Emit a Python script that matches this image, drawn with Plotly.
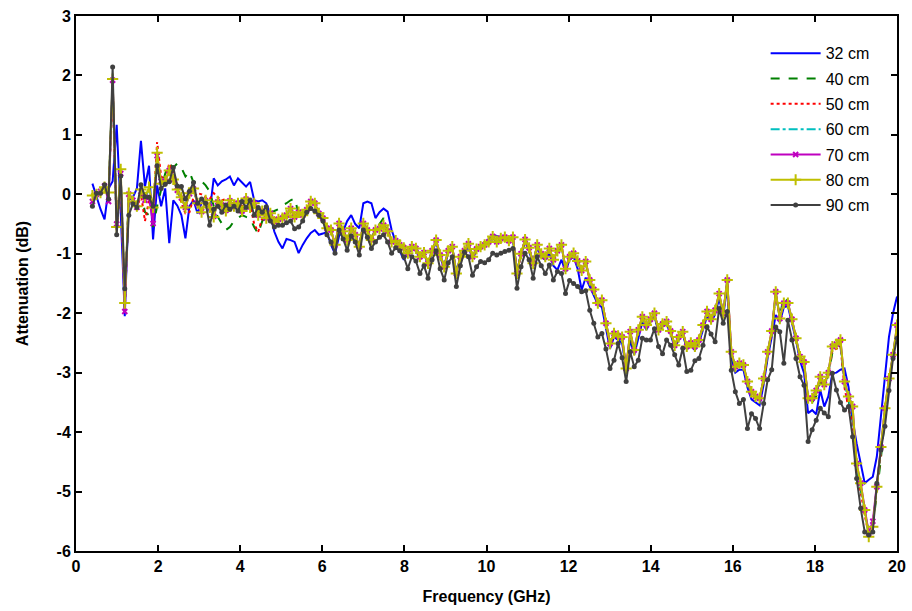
import plotly.graph_objects as go

# Frequency grid (GHz): 200 samples from 0.4 to 20 GHz
freq = [round(0.4 + 0.0985 * i, 4) for i in range(200)]

series_names = ["32 cm", "40 cm", "50 cm", "60 cm", "70 cm", "80 cm", "90 cm"]

cm32 = [
0.18, -0.05, -0.25, -0.42, 0.10, 0.22, 1.17, -0.30, -2.05, -0.10,
-0.05, 0.10, 0.90, 0.13, 0.48, -0.76, 0.15, -0.20, 0.10, -0.82,
-0.10, -0.19, -0.35, -0.74, -0.20, -0.10, -0.32, -0.15, -0.10, -0.29,
0.27, 0.15, 0.22, 0.25, 0.30, 0.15, 0.27, 0.20, 0.13, 0.21,
-0.10, -0.12, -0.10, -0.15, -0.35, -0.63, -0.80, -0.91, -0.75, -0.77,
-0.80, -0.99, -0.85, -0.74, -0.65, -0.60, -0.68, -0.66, -0.63, -0.85,
-1.00, -0.70, -0.62, -0.45, -0.35, -0.50, -0.57, -0.15, -0.12, -0.15,
-0.40, -0.30, -0.24, -0.29, -0.60, -0.80, -0.95, -1.10, -1.00, -0.90,
-0.95, -1.08, -1.00, -1.18, -0.98, -0.80, -1.05, -1.25, -0.98, -0.92,
-1.30, -1.10, -0.98, -0.88, -1.08, -0.95, -0.90, -0.84, -0.75, -0.68,
-0.70, -0.72, -0.74, -0.78, -0.74, -1.30, -1.02, -0.80, -0.95, -1.18,
-0.90, -1.05, -1.10, -1.00, -1.20, -1.27, -1.10, -1.30, -1.10, -1.05,
-1.25, -1.61, -1.40, -1.55, -1.70, -1.85, -1.90, -2.25, -2.60, -2.40,
-2.45, -2.50, -2.95, -2.45, -2.70, -2.40, -2.15, -2.28, -2.15, -2.05,
-2.32, -2.22, -2.18, -2.35, -2.58, -2.45, -2.35, -2.60, -2.55, -2.62,
-2.50, -2.28, -2.05, -2.15, -2.02, -1.75, -2.05, -1.55, -2.75, -3.00,
-2.95, -2.95, -3.25, -3.45, -3.50, -3.55, -3.20, -2.75, -2.40, -2.03,
-2.15, -1.90, -1.88, -2.15, -2.45, -2.80, -3.01, -3.68, -3.63, -3.70,
-3.29, -3.57, -3.40, -3.01, -3.00, -2.95, -2.93, -3.24, -3.80, -4.19,
-4.50, -4.86, -4.80, -4.75, -4.41, -3.74, -3.12, -2.40, -2.00, -1.72]

cm40 = [
-0.05, 0.00, 0.05, 0.10, 0.05, 1.85, -0.40, 0.35, -1.90, 0.00,
-0.10, -0.15, 0.05, -0.30, -0.35, -0.55, -0.20, 0.10, 0.35, 0.52,
0.45, 0.52, 0.45, 0.30, 0.38, 0.20, 0.25, 0.22, 0.15, 0.05,
-0.20, -0.38, -0.50, -0.60, -0.55, -0.45, -0.40, -0.35, -0.38, -0.40,
-0.55, -0.66, -0.45, -0.38, -0.30, -0.28, -0.25, -0.18, -0.15, -0.10,
-0.07, -0.32, -0.33, -0.26, -0.13, -0.16, -0.32, -0.42, -0.55, -0.62,
-0.83, -0.50, -0.60, -0.75, -0.58, -0.66, -0.86, -0.50, -0.58, -0.75,
-0.58, -0.50, -0.40, -0.58, -0.78, -0.78, -0.84, -0.90, -0.98, -0.88,
-0.92, -1.04, -0.98, -1.15, -0.96, -0.78, -1.03, -1.21, -0.96, -0.90,
-1.31, -1.05, -0.96, -0.84, -1.05, -0.93, -0.89, -0.86, -0.80, -0.73,
-0.80, -0.75, -0.73, -0.78, -0.74, -1.30, -1.00, -0.78, -0.91, -1.15,
-0.87, -1.01, -1.06, -0.93, -1.10, -0.98, -0.88, -1.25, -1.07, -1.01,
-1.14, -1.30, -1.16, -1.46, -1.63, -1.84, -1.80, -2.20, -2.53, -2.36,
-2.42, -2.45, -2.93, -2.38, -2.66, -2.33, -2.12, -2.24, -2.12, -2.03,
-2.30, -2.20, -2.16, -2.32, -2.55, -2.42, -2.33, -2.57, -2.52, -2.58,
-2.47, -2.23, -2.00, -2.12, -1.97, -1.70, -2.02, -1.48, -2.68, -2.93,
-2.87, -2.90, -3.18, -3.35, -3.43, -3.45, -3.13, -2.70, -2.35, -1.66,
-2.05, -1.72, -1.80, -2.12, -2.45, -2.75, -2.87, -3.45, -3.50, -3.40,
-3.15, -3.22, -3.05, -2.66, -2.62, -2.55, -3.20, -3.50, -3.75, -4.60,
-4.95, -5.35, -5.70, -5.60, -5.05, -4.45, -3.75, -3.15, -2.72, -2.25]

cm50 = [
-0.10, 0.00, 0.05, 0.15, 0.00, 1.80, -0.60, 0.20, -1.95, 0.00,
-0.10, -0.25, 0.00, -0.45, -0.10, -0.30, 0.88, 0.30, 0.25, 0.52,
0.35, 0.15, -0.15, -0.32, -0.30, -0.05, 0.02, 0.00, -0.05, -0.08,
0.02, -0.05, -0.10, -0.08, -0.12, -0.15, -0.10, -0.20, -0.12, -0.15,
-0.50, -0.63, -0.40, -0.35, -0.30, -0.40, -0.40, -0.38, -0.33, -0.25,
-0.36, -0.30, -0.34, -0.25, -0.13, -0.16, -0.31, -0.41, -0.56, -0.61,
-0.84, -0.50, -0.61, -0.76, -0.58, -0.67, -0.87, -0.50, -0.59, -0.76,
-0.59, -0.56, -0.50, -0.60, -0.79, -0.78, -0.85, -0.89, -0.98, -0.88,
-0.92, -1.04, -0.98, -1.15, -0.95, -0.78, -1.02, -1.21, -0.95, -0.89,
-1.32, -1.05, -0.95, -0.84, -1.05, -0.92, -0.88, -0.85, -0.80, -0.72,
-0.80, -0.75, -0.72, -0.78, -0.73, -1.32, -1.00, -0.77, -0.90, -1.15,
-0.86, -1.00, -1.05, -0.92, -1.10, -0.96, -0.86, -1.25, -1.06, -1.00,
-1.13, -1.29, -1.14, -1.45, -1.61, -1.83, -1.79, -2.18, -2.52, -2.35,
-2.40, -2.42, -2.93, -2.35, -2.64, -2.30, -2.10, -2.22, -2.11, -2.02,
-2.29, -2.19, -2.15, -2.31, -2.54, -2.41, -2.32, -2.56, -2.51, -2.57,
-2.46, -2.22, -1.98, -2.11, -1.96, -1.69, -2.01, -1.46, -2.66, -2.91,
-2.85, -2.88, -3.16, -3.33, -3.42, -3.44, -3.12, -2.68, -2.33, -1.68,
-2.08, -1.78, -1.85, -2.12, -2.44, -2.75, -2.86, -3.45, -3.48, -3.35,
-3.12, -3.20, -3.05, -2.62, -2.60, -2.55, -3.25, -3.60, -3.85, -4.65,
-5.00, -5.40, -5.72, -5.55, -4.95, -4.35, -3.70, -3.15, -2.72, -2.28]

cm60 = [
-0.05, 0.00, 0.03, 0.15, 0.00, 1.90, -0.58, 0.38, -1.90, 0.00,
-0.10, -0.18, 0.05, -0.08, 0.10, -0.25, 0.62, 0.20, 0.25, 0.38,
0.28, 0.05, -0.08, -0.20, 0.00, 0.08, -0.16, -0.28, -0.12, -0.20,
-0.35, -0.14, -0.18, -0.26, -0.12, -0.20, -0.16, -0.27, -0.09, -0.20,
-0.16, -0.34, -0.27, -0.39, -0.33, -0.45, -0.41, -0.40, -0.34, -0.25,
-0.37, -0.31, -0.34, -0.27, -0.13, -0.15, -0.31, -0.41, -0.56, -0.61,
-0.84, -0.50, -0.62, -0.76, -0.58, -0.68, -0.87, -0.50, -0.60, -0.76,
-0.60, -0.57, -0.52, -0.61, -0.79, -0.78, -0.85, -0.90, -0.98, -0.88,
-0.91, -1.04, -0.98, -1.15, -0.95, -0.78, -1.02, -1.21, -0.95, -0.89,
-1.32, -1.05, -0.95, -0.84, -1.05, -0.92, -0.88, -0.85, -0.80, -0.72,
-0.80, -0.74, -0.72, -0.78, -0.72, -1.32, -1.00, -0.77, -0.90, -1.15,
-0.86, -1.00, -1.05, -0.92, -1.10, -0.96, -0.86, -1.25, -1.06, -1.00,
-1.13, -1.29, -1.14, -1.45, -1.61, -1.83, -1.79, -2.18, -2.52, -2.35,
-2.39, -2.41, -2.93, -2.33, -2.63, -2.29, -2.08, -2.21, -2.11, -2.01,
-2.29, -2.19, -2.15, -2.31, -2.54, -2.41, -2.32, -2.56, -2.51, -2.57,
-2.46, -2.21, -1.98, -2.11, -1.96, -1.68, -2.01, -1.45, -2.66, -2.91,
-2.85, -2.88, -3.16, -3.33, -3.41, -3.44, -3.11, -2.66, -2.31, -1.66,
-2.09, -1.80, -1.84, -2.11, -2.43, -2.74, -2.84, -3.44, -3.45, -3.32,
-3.09, -3.20, -3.02, -2.58, -2.55, -2.50, -3.18, -3.45, -3.65, -4.56,
-4.90, -5.33, -5.74, -5.57, -4.92, -4.28, -3.63, -3.12, -2.71, -2.22]

cm70 = [
-0.12, 0.00, 0.05, 0.14, -0.12, 1.92, -0.50, 0.35, -1.97, 0.00,
-0.10, -0.22, 0.05, -0.10, -0.05, -0.49, 0.65, 0.22, 0.22, 0.40,
0.25, 0.07, -0.06, -0.22, 0.01, 0.09, -0.15, -0.29, -0.11, -0.21,
-0.37, -0.13, -0.18, -0.27, -0.11, -0.20, -0.15, -0.28, -0.08, -0.21,
-0.15, -0.35, -0.28, -0.40, -0.32, -0.46, -0.42, -0.40, -0.35, -0.24,
-0.38, -0.30, -0.35, -0.26, -0.12, -0.15, -0.32, -0.40, -0.57, -0.60,
-0.85, -0.49, -0.62, -0.77, -0.57, -0.68, -0.88, -0.49, -0.60, -0.77,
-0.60, -0.58, -0.52, -0.62, -0.80, -0.78, -0.85, -0.90, -0.99, -0.88,
-0.91, -1.05, -0.98, -1.16, -0.95, -0.77, -1.02, -1.22, -0.95, -0.88,
-1.33, -1.05, -0.95, -0.83, -1.05, -0.92, -0.88, -0.85, -0.80, -0.71,
-0.80, -0.74, -0.72, -0.78, -0.72, -1.33, -1.00, -0.76, -0.90, -1.16,
-0.85, -1.00, -1.05, -0.91, -1.10, -0.95, -0.85, -1.25, -1.05, -0.99,
-1.12, -1.28, -1.13, -1.44, -1.60, -1.83, -1.78, -2.17, -2.51, -2.34,
-2.38, -2.40, -2.93, -2.31, -2.62, -2.28, -2.06, -2.20, -2.10, -2.00,
-2.28, -2.18, -2.14, -2.30, -2.54, -2.40, -2.31, -2.56, -2.50, -2.56,
-2.45, -2.20, -1.97, -2.10, -1.95, -1.67, -2.00, -1.44, -2.65, -2.90,
-2.84, -2.87, -3.15, -3.32, -3.40, -3.43, -3.10, -2.65, -2.30, -1.64,
-2.09, -1.83, -1.83, -2.10, -2.42, -2.73, -2.82, -3.43, -3.43, -3.30,
-3.07, -3.20, -3.00, -2.56, -2.52, -2.45, -3.15, -3.40, -3.57, -4.53,
-4.86, -5.31, -5.70, -5.50, -4.92, -4.25, -3.60, -3.10, -2.70, -2.20]

cm80 = [
-0.02, 0.00, 0.03, 0.12, 0.03, 1.94, -0.55, 0.42, -1.83, 0.02,
-0.12, -0.20, 0.08, -0.05, 0.12, -0.22, 0.70, 0.18, 0.22, 0.40,
0.25, 0.08, -0.05, -0.22, 0.02, 0.10, -0.15, -0.30, -0.10, -0.22,
-0.38, -0.12, -0.18, -0.28, -0.10, -0.20, -0.15, -0.28, -0.07, -0.22,
-0.15, -0.35, -0.28, -0.40, -0.32, -0.46, -0.42, -0.40, -0.35, -0.24,
-0.38, -0.30, -0.35, -0.26, -0.12, -0.15, -0.32, -0.40, -0.57, -0.60,
-0.85, -0.49, -0.62, -0.77, -0.57, -0.68, -0.88, -0.49, -0.60, -0.77,
-0.60, -0.58, -0.52, -0.62, -0.80, -0.78, -0.85, -0.90, -0.99, -0.88,
-0.91, -1.05, -0.98, -1.16, -0.95, -0.77, -1.02, -1.22, -0.95, -0.88,
-1.33, -1.05, -0.95, -0.83, -1.05, -0.92, -0.88, -0.85, -0.80, -0.71,
-0.80, -0.74, -0.72, -0.78, -0.72, -1.33, -1.00, -0.76, -0.90, -1.16,
-0.85, -1.00, -1.05, -0.91, -1.10, -0.95, -0.85, -1.25, -1.05, -0.99,
-1.12, -1.28, -1.13, -1.44, -1.60, -1.83, -1.78, -2.17, -2.51, -2.34,
-2.38, -2.40, -2.93, -2.31, -2.62, -2.28, -2.06, -2.20, -2.10, -2.00,
-2.28, -2.18, -2.14, -2.30, -2.54, -2.40, -2.31, -2.56, -2.50, -2.56,
-2.45, -2.20, -1.97, -2.10, -1.95, -1.67, -2.00, -1.44, -2.65, -2.90,
-2.84, -2.87, -3.15, -3.32, -3.40, -3.43, -3.10, -2.65, -2.30, -1.64,
-2.09, -1.83, -1.83, -2.10, -2.42, -2.73, -2.82, -3.43, -3.43, -3.30,
-3.07, -3.20, -3.00, -2.56, -2.52, -2.45, -3.15, -3.40, -3.57, -4.53,
-4.86, -5.31, -5.76, -5.59, -4.92, -4.25, -3.60, -3.10, -2.70, -2.20]

cm90 = [
-0.20, 0.02, 0.02, 0.16, -0.08, 2.14, -0.68, 0.31, -1.59, -0.35,
-0.16, -0.22, 0.16, -0.04, -0.05, -0.20, 0.48, 0.10, 0.17, 0.21,
0.45, 0.14, 0.13, -0.08, 0.05, 0.20, -0.15, -0.08, -0.15, -0.52,
-0.25, -0.20, -0.30, -0.18, -0.25, -0.20, -0.28, -0.12, -0.22, -0.10,
-0.35, -0.22, -0.30, -0.21, -0.45, -0.55, -0.52, -0.52, -0.48, -0.45,
-0.58, -0.55, -0.45, -0.30, -0.24, -0.28, -0.35, -0.45, -0.68, -0.80,
-0.99, -0.60, -0.75, -0.94, -0.70, -0.80, -1.02, -0.60, -0.72, -0.91,
-0.80, -0.72, -0.68, -0.80, -0.99, -0.90, -0.95, -1.05, -1.25, -1.05,
-1.12, -1.33, -1.20, -1.41, -1.10, -0.95, -1.25, -1.44, -1.15, -1.05,
-1.55, -1.20, -0.97, -1.05, -1.36, -1.22, -1.13, -1.15, -1.10, -0.99,
-1.02, -0.99, -0.96, -0.94, -0.91, -1.58, -1.22, -0.99, -1.10, -1.41,
-1.05, -1.20, -1.33, -1.19, -1.44, -1.30, -1.33, -1.67, -1.45, -1.50,
-1.55, -1.64, -1.62, -1.95, -2.17, -2.40, -2.34, -2.60, -2.93, -2.79,
-2.51, -2.75, -3.15, -2.65, -2.90, -2.79, -2.42, -2.45, -2.45, -2.26,
-2.56, -2.68, -2.45, -2.54, -2.70, -2.87, -2.59, -2.98, -2.96, -2.80,
-2.76, -2.54, -2.23, -2.35, -2.48, -1.92, -2.17, -1.97, -2.96, -3.32,
-3.52, -3.45, -3.94, -3.69, -3.77, -3.94, -3.52, -3.12, -2.95, -2.23,
-2.31, -2.84, -2.12, -2.45, -2.76, -3.07, -3.21, -4.16, -3.96, -3.80,
-3.60, -3.68, -3.74, -3.01, -3.29, -3.50, -3.63, -3.57, -4.08, -4.78,
-5.28, -5.68, -5.73, -5.68, -4.86, -4.30, -3.90, -3.30, -2.76, -2.42]

x_ticks = [0, 2, 4, 6, 8, 10, 12, 14, 16, 18, 20]
x_ticklabels = ["0", "2", "4", "6", "8", "10", "12", "14", "16", "18", "20"]
y_ticks = [3, 2, 1, 0, -1, -2, -3, -4, -5, -6]
y_ticklabels = ["3", "2", "1", "0", "-1", "-2", "-3", "-4", "-5", "-6"]

FONT = "Arial, 'Liberation Sans', sans-serif"

styles = [
    dict(color="#0000FF", dash="solid", symbol=None),
    dict(color="#008000", dash="dash", symbol=None),
    dict(color="#FF0000", dash="dot", symbol=None),
    dict(color="#00BFBF", dash="dashdot", symbol=None),
    dict(color="#BF00BF", dash="solid", symbol="x-thin-open"),
    dict(color="#BFBF00", dash="solid", symbol="cross-thin-open"),
    dict(color="#404040", dash="solid", symbol="circle"),
]
data = [cm32, cm40, cm50, cm60, cm70, cm80, cm90]

fig = go.Figure()
for name, ys, st in zip(series_names, data, styles):
    tr = dict(x=freq, y=ys, name=name, legendgroup=name,
              line=dict(color=st["color"], width=2, dash=st["dash"]))
    if st["symbol"] is None:
        tr["mode"] = "lines"
    else:
        tr["mode"] = "lines+markers"
        if st["symbol"] == "circle":
            tr["marker"] = dict(symbol="circle", size=5, color=st["color"])
        elif st["symbol"] == "x-thin-open":
            tr["marker"] = dict(symbol="x-thin-open", size=5,
                                line=dict(color=st["color"], width=2))
        else:
            tr["marker"] = dict(symbol="cross-thin-open", size=8,
                                line=dict(color=st["color"], width=2))
    fig.add_trace(go.Scatter(**tr))

axis_common = dict(showline=True, linecolor="black", linewidth=2, mirror="ticks",
                   ticks="inside", ticklen=6, tickwidth=1.5, tickcolor="black",
                   showgrid=False, zeroline=False, automargin=False,
                   tickfont=dict(family=FONT, size=16, color="black", weight="bold"))

fig.update_xaxes(range=[0, 20], tickvals=x_ticks, ticktext=x_ticklabels,
                 title=dict(text="Frequency (GHz)", standoff=17,
                            font=dict(family=FONT, size=16, color="black", weight="bold")),
                 **axis_common)
fig.update_yaxes(range=[-6, 3], tickvals=y_ticks, ticktext=y_ticklabels,
                 title=dict(text="Attenuation (dB)", standoff=24,
                            font=dict(family=FONT, size=16, color="black", weight="bold")),
                 **axis_common)

fig.update_layout(
    width=912, height=611,
    margin=dict(l=76, r=15, t=16, b=60, autoexpand=False),
    paper_bgcolor="white", plot_bgcolor="white",
    font=dict(family=FONT, color="black"),
    legend=dict(x=0.84, y=0.962, xanchor="left", yanchor="top",
                bgcolor="rgba(255,255,255,0)", borderwidth=0,
                font=dict(family=FONT, size=16, color="black"),
                tracegroupgap=1.5, traceorder="grouped", itemwidth=50),
)

fig.write_html("out.html")
